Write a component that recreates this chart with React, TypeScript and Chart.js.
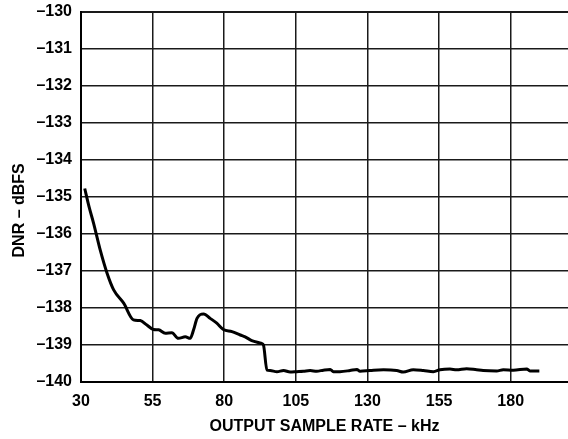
import React, { useEffect, useRef } from "react";
import { Chart, registerables } from "chart.js";

Chart.register(...registerables);

// Output sample rate (kHz)
const sampleRate: number[] = [
  31.3, 32.8, 34.4, 36.7, 39.1, 41.4, 44.9, 48.3, 50.7, 53.0, 55.3, 57.1, 59.4, 61.7, 64.0,
  66.4, 68.1, 69.3, 70.5, 72.8, 75.1, 77.4, 79.7, 82.7, 85.6, 87.3, 89.6, 93.1, 93.7,
  94.9, 96.0, 98.4, 100.7, 103.0, 105.3, 107.6, 110.0, 112.3, 114.6, 117.0, 118.1,
  120.4, 123.9, 126.3, 127.4, 130.9, 135.6, 140.2, 142.5, 146.0, 149.5, 153.0, 155.3,
  158.8, 161.1, 164.6, 168.1, 170.4, 175.1, 177.4, 180.9, 185.6, 186.7, 190.0,
];

// DNR (dBFS)
const dnr: number[] = [
  -134.77, -135.26, -135.71, -136.43, -137.06, -137.51, -137.87, -138.32, -138.34, -138.46,
  -138.58, -138.59, -138.68, -138.67, -138.82, -138.78, -138.82, -138.59, -138.28, -138.16,
  -138.28, -138.41, -138.58, -138.64, -138.73, -138.78, -138.88, -138.96, -139.0,
  -139.68, -139.69, -139.72, -139.69, -139.73, -139.72, -139.71, -139.69, -139.71, -139.68,
  -139.66, -139.72, -139.72, -139.69, -139.66, -139.71, -139.69, -139.67, -139.69, -139.73,
  -139.67, -139.69, -139.72, -139.67, -139.65, -139.67, -139.64, -139.67, -139.69, -139.70,
  -139.67, -139.68, -139.65, -139.70, -139.70,
];

const xTicks: number[] = [30, 55, 80, 105, 130, 155, 180];
const xLabel = "OUTPUT SAMPLE RATE – kHz";
const yLabel = "DNR – dBFS";

const FONT = "'Liberation Sans', Arial, Helvetica, sans-serif";

export default function App() {
  const ref = useRef<HTMLCanvasElement | null>(null);

  useEffect(() => {
    if (!ref.current) return;
    const chart = new Chart(ref.current, {
      type: "line",
      data: {
        datasets: [
          {
            data: sampleRate.map((x, i) => ({ x, y: dnr[i] })),
            borderColor: "#000",
            borderWidth: 3,
            pointRadius: 0,
            cubicInterpolationMode: "monotone",
            fill: false,
          },
        ],
      },
      options: {
        animation: false,
        responsive: false,
        maintainAspectRatio: false,
        layout: { padding: { top: 12, right: 0, bottom: 0, left: 0 } },
        plugins: { legend: { display: false }, tooltip: { enabled: false } },
        scales: {
          x: {
            type: "linear",
            min: 30,
            max: 200,
            afterBuildTicks: (scale: any) => {
              scale.ticks = xTicks.map((v) => ({ value: v }));
            },
            afterFit: (scale: any) => {
              scale.height = 57;
              scale.paddingLeft = 0;
              scale.paddingRight = 0;
            },
            grid: { color: "#1a1a1a", lineWidth: 1.5, drawTicks: false },
            border: { color: "#000", width: 2 },
            ticks: {
              padding: 10,
              color: "#000",
              maxRotation: 0,
              autoSkip: false,
              font: { family: FONT, size: 16, weight: "bold" },
            },
            title: {
              display: true,
              text: xLabel,
              color: "#000",
              font: { family: FONT, size: 16, weight: "bold" },
              padding: { top: 0, bottom: 3 },
            },
          },
          y: {
            type: "linear",
            min: -140,
            max: -130,
            afterFit: (scale: any) => {
              scale.width = 81;
              scale.paddingTop = 0;
              scale.paddingBottom = 0;
            },
            grid: {
              color: "#1a1a1a",
              lineWidth: (ctx: any) => (ctx.tick && ctx.tick.value === -130 ? 2 : 1.5),
              drawTicks: false,
            },
            border: { color: "#000", width: 2 },
            ticks: {
              stepSize: 1,
              padding: 9,
              color: "#000",
              font: { family: FONT, size: 16, weight: "bold" },
              callback: (v: any) => "–" + Math.abs(Number(v)),
            },
            title: {
              display: true,
              text: yLabel + "      ",
              color: "#000",
              font: { family: FONT, size: 16, weight: "bold" },
              padding: { top: 10, bottom: 0 },
            },
          },
        },
      },
    });
    return () => chart.destroy();
  }, []);

  return (
    <div style={{ position: "absolute", left: 0, top: 0, width: 568, height: 439, background: "#fff" }}>
      <canvas ref={ref} width={568} height={439} style={{ width: 568, height: 439, display: "block" }} />
    </div>
  );
}
